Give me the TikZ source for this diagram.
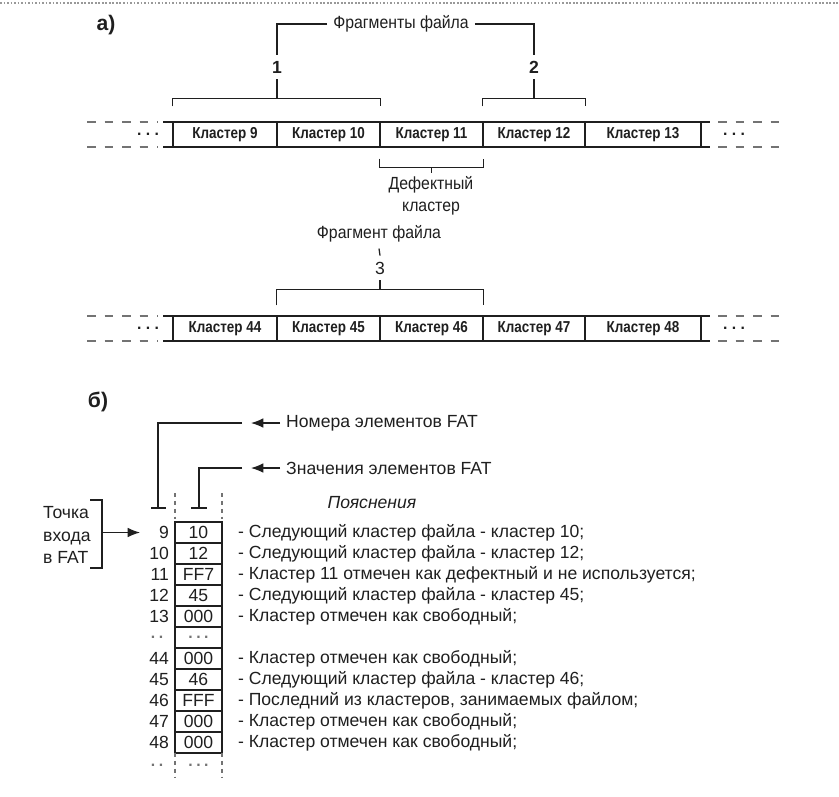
\documentclass[tikz,border=0pt]{standalone}
\usepackage{fontspec}
\setmainfont{Liberation Sans}
\newfontfamily\narrowfont[FakeStretch=0.85]{Liberation Sans}
\newfontfamily\condfont[FakeStretch=0.9]{Liberation Sans}
\usepackage{xcolor}
\definecolor{ink}{gray}{0.12}
\definecolor{dimgr}{gray}{0.45}
\definecolor{dotgr}{gray}{0.6}
\usetikzlibrary{arrows.meta,positioning,calc}

\begin{document}
\begin{tikzpicture}[
  x=0.02cm, y=-0.02cm,
  font=\fontsize{10}{12}\selectfont, text=ink,
  cell/.style={
    draw=ink, line width=0.7pt,
    minimum height=0.5cm, inner sep=0pt,
    font=\narrowfont\bfseries\fontsize{9}{11}\selectfont
  },
  fatcell/.style={
    draw=ink, line width=0.7pt,
    minimum width=0.94cm, minimum height=0.42cm, inner sep=0pt
  },
  rowtail/.style={dimgr, dash pattern=on 5pt off 5pt, line width=0.6pt},
  tabdash/.style={dimgr, dash pattern=on 2.5pt off 2pt, line width=0.8pt},
  dots/.style={text=dimgr, font=\bfseries\fontsize{9}{10}\selectfont},
  rowdots/.style={text=ink, font=\bfseries\fontsize{9}{10}\selectfont},
  lbl/.style={font=\condfont\fontsize{10}{12.5}\selectfont},
  brk/.style={draw=ink, line width=0.7pt},
  tip/.style={-{Latex[length=7pt,width=5.5pt]}, draw=ink, line width=0.7pt}
]
\useasboundingbox[fill=white] (0,0) rectangle (839,796);
\draw[dotgr, dash pattern=on 1pt off 1pt, line width=0.6pt] (0,3) -- (839,3);

% ---- a) fragments of a file
\node[font=\bfseries\fontsize{12}{14}\selectfont] (parta) at (106,25) {а)};

\foreach \n/\xc/\w in {9/225/2.08,10/328.5/2.06,11/431.5/2.06,12/534/2.04,13/643/2.32} {
  \node[cell, minimum width=\w cm] (c\n) at (\xc,134.5) {Кластер \n};
}
\foreach \n/\xc/\w in {44/225/2.08,45/328.5/2.06,46/431.5/2.06,47/534/2.04,48/643/2.32} {
  \node[cell, minimum width=\w cm] (k\n) at (\xc,328.5) {Кластер \n};
}
\foreach \yy in {122,147,316,341} {
  \draw[ink, line width=0.7pt] (163,\yy) -- (710,\yy);
  \draw[rowtail] (87,\yy) -- (158,\yy);
  \draw[rowtail] (718,\yy) -- (788,\yy);
}
\foreach \yy/\k in {134.5/1,328.5/2} {
  \node[rowdots] (ldots\k) at (148,\yy) {.\hspace{2.5pt}.\hspace{2.5pt}.};
  \node[rowdots] (rdots\k) at (734,\yy) {.\hspace{2.5pt}.\hspace{2.5pt}.};
}

\node[lbl] (frags) at (401,24) {Фрагменты файла};
\node[font=\bfseries] (n1) at (277,67) {1};
\node[font=\bfseries] (n2) at (534,67) {2};
\coordinate (br1) at (277,99);
\coordinate (br2) at (534,99);
\draw[brk] (frags.west) -| (n1.north);
\draw[brk] (frags.east) -| (n2.north);
\draw[brk] (n1.south) -- (br1);
\draw[brk] (n2.south) -- (br2);
\draw[brk] ($(c9.north west)+(0,-15)$) -- ($(c9.north west)+(0,-23)$)
  -- ($(c10.north east)+(0,-23)$) -- ($(c10.north east)+(0,-15)$);
\draw[brk] ($(c12.north west)+(0,-15)$) -- ($(c12.north west)+(0,-23)$)
  -- ($(c12.north east)+(0,-23)$) -- ($(c12.north east)+(0,-15)$);

% defective cluster
\draw[brk] ($(c11.south west)+(0,11)$) -- ($(c11.south west)+(0,20)$)
  -- ($(c11.south east)+(0,20)$) -- ($(c11.south east)+(0,11)$);
\coordinate (brd) at (431.5,167);
\node[lbl, align=center] (defect) at (431,196) {Дефектный\\кластер};
\draw[brk] (brd) -- ++(0,6);

\node[lbl] (frag3) at (379,234) {Фрагмент файла};
\node (n3) at (380,268) {3};
\coordinate (br3) at (380,290);
\draw[brk] (frag3.south) -- (n3.north);
\draw[brk] (n3.south) -- (br3);
\draw[brk] ($(k45.north west)+(0,-10)$) -- ($(k45.north west)+(0,-26)$)
  -- ($(k46.north east)+(0,-26)$) -- ($(k46.north east)+(0,-10)$);

% ---- b) FAT table
\node[font=\bfseries\fontsize{12}{14}\selectfont] (partb) at (98,402) {б)};

\foreach \i/\nr/\val/\txt in {
  0/9/10/{- Следующий кластер файла - кластер 10;},
  1/10/12/{- Следующий кластер файла - кластер 12;},
  2/11/FF7/{- Кластер 11 отмечен как дефектный и не используется;},
  3/12/45/{- Следующий кластер файла - кластер 45;},
  4/13/000/{- Кластер отмечен как свободный;},
  6/44/000/{- Кластер отмечен как свободный;},
  7/45/46/{- Следующий кластер файла - кластер 46;},
  8/46/FFF/{- Последний из кластеров, занимаемых файлом;},
  9/47/000/{- Кластер отмечен как свободный;},
  10/48/000/{- Кластер отмечен как свободный;}} {
  \node[fatcell] (v\nr) at (198.5,532.5+21*\i) {\val};
  \node[anchor=east, inner sep=1pt] (e\nr) at (171,532.5+21*\i) {\nr};
  \node[anchor=west, inner sep=1pt] (t\nr) at (236,532.5+21*\i) {\txt};
}
\node[fatcell, dots] (vgap) at (198.5,637.5) {.\hspace{2pt}.\hspace{2pt}.};
\node[dots] (egap) at (157,637.5) {.\hspace{2pt}.};
\draw[tabdash] (175,753) -- (175,778);
\draw[tabdash] (222,753) -- (222,778);
\node[dots] (vend) at (198.5,765) {.\hspace{2pt}.\hspace{2pt}.};
\node[dots] (eend) at (157,765) {.\hspace{2pt}.};
\draw[tabdash] (175,493) -- (175,519);
\draw[tabdash] (222,493) -- (222,519);

\node[font=\itshape\fontsize{10}{12}\selectfont] (expl) at (372,503) {Пояснения};

% column markers
\node[anchor=west] (numlbl) at (280,423) {Номера элементов FAT};
\node[anchor=west] (vallbl) at (280,468) {Значения элементов FAT};
\coordinate (numjoin) at (242,423);
\coordinate (valjoin) at (242,468);
\coordinate (numT) at (158,508);
\coordinate (valT) at (199,508);
\draw[tip] (numlbl.west) -- ++(-29,0);
\draw[tip] (vallbl.west) -- ++(-29,0);
\draw[brk] (numjoin) -| (numT);
\draw[brk] (valjoin) -| (valT);
\draw[brk] ($(numT)+(-7,0)$) -- ($(numT)+(8,0)$);
\draw[brk] ($(valT)+(-8,0)$) -- ($(valT)+(8,0)$);

% entry point
\node[anchor=west, align=left, font=\fontsize{10}{13}\selectfont] (entry) at (37,535) {Точка\\входа\\в FAT};
\coordinate (entrybr) at (102,532.5);
\coordinate (entrytip) at (140,532.5);
\draw[brk] (90,500) -| (102,568) -- (90,568);
\draw[tip] (entrybr) -- (entrytip);
\end{tikzpicture}
\end{document}
